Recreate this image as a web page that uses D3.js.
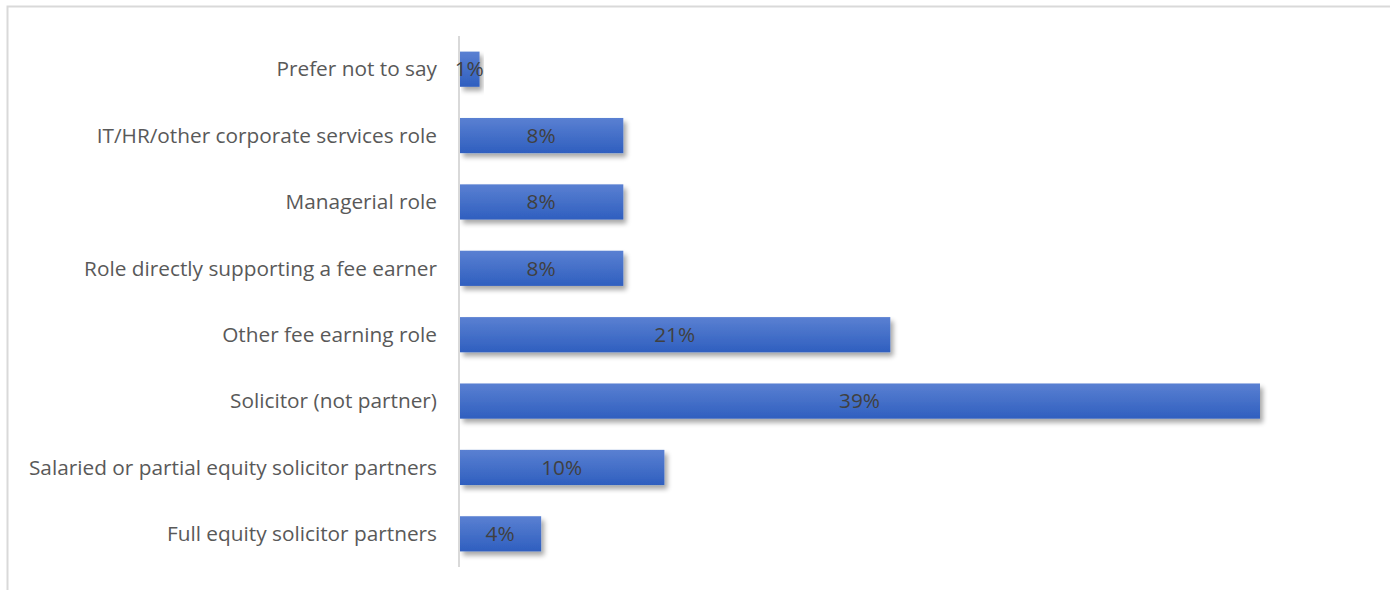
<!DOCTYPE html>
<html><head><meta charset="utf-8">
<script src="https://cdn.jsdelivr.net/npm/d3@7"></script>
<style>body{margin:0;background:#fff}svg{display:block}</style>
</head><body>
<svg id="c" width="1390" height="590"></svg>
<script>
const categories = ["Prefer not to say","IT/HR/other corporate services role","Managerial role","Role directly supporting a fee earner","Other fee earning role","Solicitor (not partner)","Salaried or partial equity solicitor partners","Full equity solicitor partners"];
const values = [1,8,8,8,21,39,10,4];
const labels = ["1%","8%","8%","8%","21%","39%","10%","4%"];

const svg = d3.select("#c");
const font = "'Open Sans', sans-serif";
// outer border
svg.append("rect").attr("x",7.5).attr("y",6.5).attr("width",1400).attr("height",600)
  .attr("fill","none").attr("stroke","#d9d9d9").attr("stroke-width",2);

const defs = svg.append("defs");
const g1 = defs.append("linearGradient").attr("id","bg").attr("x1",0).attr("y1",0).attr("x2",0).attr("y2",1);
g1.append("stop").attr("offset","0%").attr("stop-color","#5a80d2");
g1.append("stop").attr("offset","100%").attr("stop-color","#2f5fbf");
const f = defs.append("filter").attr("id","sh").attr("x","-10%").attr("y","-30%").attr("width","130%").attr("height","180%");
f.append("feGaussianBlur").attr("in","SourceAlpha").attr("stdDeviation",2.5).attr("result","b");
f.append("feOffset").attr("in","b").attr("dx",3).attr("dy",4).attr("result","o");
f.append("feComponentTransfer").attr("in","o").attr("result","o2").append("feFuncA").attr("type","linear").attr("slope",0.35);
const m = f.append("feMerge"); m.append("feMergeNode").attr("in","o2"); m.append("feMergeNode").attr("in","SourceGraphic");

const x0 = 459, y0 = 36, y1 = 567;
const x = d3.scaleLinear().domain([0,39]).range([x0, 1260]);
const y = d3.scaleBand().domain(categories).range([y0,y1]).paddingInner(0.47).paddingOuter(0.235);

svg.append("g").selectAll("rect").data(values).join("rect")
  .attr("x", x(0)+1).attr("y",(d,i)=>y(categories[i]))
  .attr("width", d=>x(d)-x(0)-1).attr("height", y.bandwidth())
  .attr("fill","url(#bg)").attr("filter","url(#sh)");

svg.append("line").attr("x1",x0).attr("x2",x0).attr("y1",y0).attr("y2",y1)
  .attr("stroke","#d9d9d9").attr("stroke-width",2);

svg.append("g").selectAll("text").data(categories).join("text")
  .attr("x",437).attr("y",d=>y(d)+y.bandwidth()/2).attr("dy","0.35em")
  .attr("text-anchor","end").attr("fill","#595959").attr("font-family",font).attr("font-size",20.8)
  .text(d=>d);

svg.append("g").selectAll("text").data(values).join("text")
  .attr("x",d=>(x(0)+x(d))/2).attr("y",(d,i)=>y(categories[i])+y.bandwidth()/2).attr("dy","0.35em")
  .attr("text-anchor","middle").attr("fill","#404040").attr("font-family",font).attr("font-size",20.8)
  .text((d,i)=>labels[i]);
</script>
</body></html>
